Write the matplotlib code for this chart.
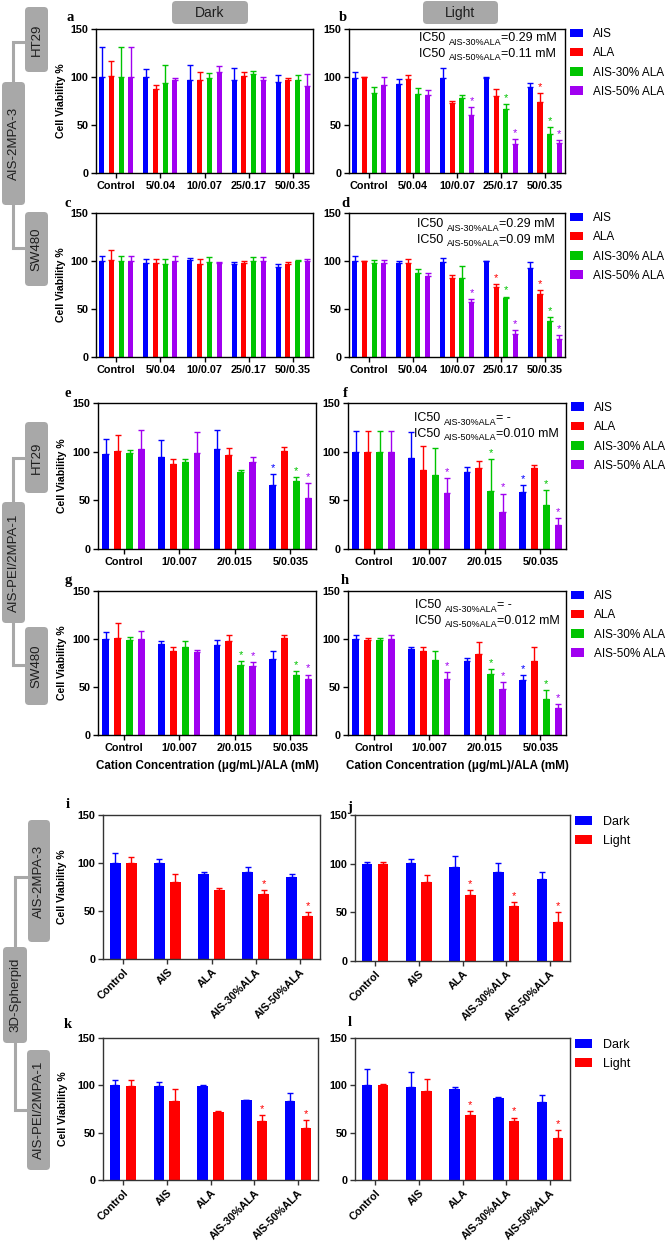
import numpy as np
import matplotlib
matplotlib.use("Agg")
import matplotlib.pyplot as plt
from matplotlib.patches import FancyBboxPatch

plt.rcParams['font.family'] = ['Liberation Sans', 'DejaVu Sans']

W, H = 666, 1243

# ---- data ----
series4 = ['AIS', 'ALA', 'AIS-30% ALA', 'AIS-50% ALA']
series2 = ['Dark', 'Light']
colors4 = ['#0000ff', '#ff0000', '#00c400', '#a000f0']
colors2 = ['#0000ff', '#ff0000']

conc_ad = ['Control', '5/0.04', '10/0.07', '25/0.17', '50/0.35']
conc_eh = ['Control', '1/0.007', '2/0.015', '5/0.035']
treat_il = ['Control', 'AIS', 'ALA', 'AIS-30%ALA', 'AIS-50%ALA']

a_vals = [[100, 100, 96.5, 97, 95], [101, 87.5, 97, 101, 96.5],
          [100, 94, 99, 103, 96.5], [100, 96.5, 105, 96.5, 90.5]]
a_errs = [[31, 8, 15.5, 12, 7], [16, 4.5, 8, 4, 2.5],
          [31, 18, 5, 3, 5.5], [31, 2.5, 6, 3.5, 13]]
a_star = [[0, 0, 0, 0, 0], [0, 0, 0, 0, 0], [0, 0, 0, 0, 0], [0, 0, 0, 0, 0]]

b_vals = [[99, 93, 99, 99, 90], [99.5, 98, 73, 80, 73.5],
          [83.5, 82, 78.5, 67, 41], [91.5, 81, 60, 30, 31]]
b_errs = [[6, 5, 10, 0.8, 4], [1, 4, 2, 8, 9.5],
          [6.5, 7, 2.5, 5, 7], [8.5, 5, 9, 5, 3]]
b_star = [[0, 0, 0, 0, 0], [0, 0, 0, 0, 1], [0, 0, 0, 1, 1], [0, 0, 1, 1, 1]]

c_vals = [[100, 98, 101.5, 96.5, 94], [101.5, 98, 97, 98, 96.5],
          [100, 97, 99, 99.5, 99.5], [100, 100.5, 98, 99.5, 99.5]]
c_errs = [[5, 4, 1.5, 2.5, 3], [9.5, 4, 5, 2, 2.5],
          [5, 5, 5, 5, 1.5], [5, 4.5, 1, 5, 2.5]]
c_star = a_star

d_vals = [[100.5, 97.5, 98.5, 99.5, 93], [100, 98, 82, 73, 66],
          [97.5, 88, 82, 61, 37], [97.5, 84.5, 57.5, 24, 19]]
d_errs = [[4.5, 2.5, 4.5, 0.5, 6], [0.5, 4, 3.5, 3, 4],
          [3.5, 4, 13, 2, 4.5], [3.5, 3.5, 2.5, 4.5, 3.5]]
d_star = [[0, 0, 0, 0, 0], [0, 0, 0, 1, 1], [0, 0, 0, 1, 1], [0, 0, 1, 1, 1]]

e_vals = [[98, 95, 103, 66], [101, 87.5, 96.5, 101],
          [98.5, 89, 79.5, 70], [103, 99, 89, 52]]
e_errs = [[15, 17, 19, 11], [16, 4.5, 7.5, 3.5],
          [3.5, 3.5, 2, 4], [19, 21, 6, 16]]
e_star = [[0, 0, 0, 1], [0, 0, 0, 0], [0, 0, 0, 1], [0, 0, 0, 1]]

f_vals = [[100, 93, 79.5, 58.5], [100, 81, 83.5, 83],
          [100, 76, 59.5, 45], [100, 58, 38, 25]]
f_errs = [[21, 27, 4.5, 7.5], [21, 25, 6.5, 3],
          [21, 28, 33, 16], [21, 14.5, 19, 7]]
f_star = [[0, 0, 0, 1], [0, 0, 0, 0], [0, 0, 1, 1], [0, 1, 1, 1]]

g_vals = [[100, 95, 94, 79.5], [101, 88, 97.5, 101],
          [99, 92, 72.5, 63], [99.5, 86, 71.5, 58]]
g_errs = [[7, 2.5, 5, 8], [16, 4, 7, 3.5],
          [3, 6, 4.5, 4], [8.5, 3, 4.5, 5]]
g_star = [[0, 0, 0, 0], [0, 0, 0, 0], [0, 0, 1, 1], [0, 0, 1, 1]]

h_vals = [[100, 89.5, 77.5, 57], [98.5, 87, 84, 77],
          [98.5, 78.5, 63.5, 38], [100, 58, 47.5, 28]]
h_errs = [[4.5, 2.5, 2.5, 5], [2.5, 5, 12.5, 15],
          [2.5, 8.5, 5.5, 9], [4.5, 7.5, 7.5, 4]]
h_star = [[0, 0, 0, 1], [0, 0, 0, 0], [0, 0, 1, 1], [0, 1, 1, 1]]

i_vals = [[100, 100, 89, 90.5, 85], [99.5, 80, 72, 68, 45]]
i_errs = [[10, 4, 1.5, 5.5, 4], [6.5, 9, 1.5, 4, 4]]
i_star = [[0, 0, 0, 0, 0], [0, 0, 0, 1, 1]]

j_vals = [[100, 101, 96.5, 91.5, 84.7], [100, 81.5, 68, 56, 40]]
j_errs = [[1.7, 4, 11, 9, 7], [1.7, 7, 5, 5, 10]]
j_star = [[0, 0, 0, 0, 0], [0, 0, 1, 1, 1]]

k_vals = [[100, 99.7, 99.7, 84, 83], [99.3, 83.6, 71.7, 62, 55]]
k_errs = [[5.6, 4, 0.5, 0.6, 9.3], [6.7, 13, 1.7, 7, 8]]
k_star = [[0, 0, 0, 0, 0], [0, 0, 0, 1, 1]]

l_vals = [[100, 98.6, 96.5, 87, 82], [100, 94, 69, 62.6, 44]]
l_errs = [[17, 16, 1.5, 0.8, 8], [1.4, 12.6, 4, 3.4, 9]]
l_star = [[0, 0, 0, 0, 0], [0, 0, 1, 1, 1]]

ic50_b = [('AIS-30%ALA', '=0.29 mM'), ('AIS-50%ALA', '=0.11 mM')]
ic50_d = [('AIS-30%ALA', '=0.29 mM'), ('AIS-50%ALA', '=0.09 mM')]
ic50_f = [('AIS-30%ALA', '= -'), ('AIS-50%ALA', '=0.010 mM')]
ic50_h = [('AIS-30%ALA', '= -'), ('AIS-50%ALA', '=0.012 mM')]

xlabel_txt = 'Cation Concentration (\u03bcg/mL)/ALA (mM)'

fig = plt.figure(figsize=(W / 100, H / 100), dpi=100)


def px_axes(x0, y0, x1, y1):
    return fig.add_axes([x0 / W, 1 - y1 / H, (x1 - x0) / W, (y1 - y0) / H])


def panel(box, cats, vals, errs, stars, colors, names, offsets, width,
          ylabel=True, rot=False, legend=False, leg_kw=None, spine='black', ylab_x=-0.14):
    ax = px_axes(*box)
    x = np.arange(len(cats))
    for k, (v, e, s) in enumerate(zip(vals, errs, stars)):
        xs = x + offsets[k]
        ax.bar(xs, v, width, color=colors[k], label=names[k], zorder=2)
        ax.errorbar(xs, v, yerr=[np.zeros(len(v)), e], fmt='none', ecolor=colors[k],
                    elinewidth=1, capsize=2.2, capthick=1, zorder=3)
        for xi, vi, ei, si in zip(xs, v, e, s):
            if si:
                ax.text(xi, vi + ei + 1.0, '*', color=colors[k], fontsize=8,
                        ha='center', va='bottom')
    ax.set_xlim(-0.46, len(cats) - 0.54)
    ax.set_ylim(0, 150)
    ax.set_yticks([0, 50, 100, 150])
    ax.set_yticklabels(['0', '50', '100', '150'], fontweight='bold', fontsize=7.8)
    ax.set_xticks(x)
    if rot:
        ax.set_xticklabels(cats, fontweight='bold', fontsize=7.8, rotation=45,
                           ha='right', rotation_mode='anchor')
    else:
        ax.set_xticklabels(cats, fontweight='bold', fontsize=7.8)
    ax.tick_params(direction='out', length=3.5, width=1, pad=2, colors=spine,
                   labelcolor='black')
    for sp in ax.spines.values():
        sp.set_linewidth(1.0)
        sp.set_color(spine)
    if ylabel:
        ax.set_ylabel('Cell Viability %', fontweight='bold', fontsize=7.6)
        ax.yaxis.set_label_coords(ylab_x, 0.5)
    if legend:
        ax.legend(loc='upper left', frameon=False, **leg_kw)
    return ax


off4 = [-0.33, -0.11, 0.11, 0.33]
off4b = [-0.32, -0.107, 0.107, 0.32]
off2 = [-0.18, 0.18]

leg4 = dict(bbox_to_anchor=(1.0, 1.04), fontsize=8.5, handlelength=1.1,
            handleheight=0.75, labelspacing=0.62, handletextpad=0.9, borderaxespad=0)
leg2 = dict(bbox_to_anchor=(1.0, 1.03), fontsize=9, handlelength=1.35,
            handleheight=0.8, labelspacing=0.55, handletextpad=0.9, borderaxespad=0)

panel((96, 29, 313, 173), conc_ad, a_vals, a_errs, a_star, colors4, series4, off4, 0.115)
panel((349, 29, 565, 173), conc_ad, b_vals, b_errs, b_star, colors4, series4, off4, 0.115,
      ylabel=False, legend=True, leg_kw=leg4)
panel((96, 213, 313, 357), conc_ad, c_vals, c_errs, c_star, colors4, series4, off4, 0.115)
panel((349, 213, 565, 357), conc_ad, d_vals, d_errs, d_star, colors4, series4, off4, 0.115,
      ylabel=False, legend=True, leg_kw=leg4)
panel((98, 403, 316, 549), conc_eh, e_vals, e_errs, e_star, colors4, series4, off4b, 0.125)
panel((348, 403, 566, 549), conc_eh, f_vals, f_errs, f_star, colors4, series4, off4b, 0.125,
      ylabel=False, legend=True, leg_kw=leg4)
ag = panel((98, 591, 316, 735), conc_eh, g_vals, g_errs, g_star, colors4, series4, off4b, 0.125)
ah = panel((348, 591, 566, 735), conc_eh, h_vals, h_errs, h_star, colors4, series4, off4b, 0.125,
           ylabel=False, legend=True, leg_kw=leg4)
for ax in (ag, ah):
    ax.set_xlabel(xlabel_txt, fontweight='bold', fontsize=8.4, labelpad=5)

panel((103, 815, 320, 959), treat_il, i_vals, i_errs, i_star, colors2, series2, off2, 0.24,
      rot=True, spine='#333333', ylab_x=-0.165)
panel((355, 815, 570, 961), treat_il, j_vals, j_errs, j_star, colors2, series2, off2, 0.24,
      ylabel=False, rot=True, legend=True, leg_kw=leg2, spine='#333333')
panel((103, 1038, 318, 1180), treat_il, k_vals, k_errs, k_star, colors2, series2, off2, 0.24,
      rot=True, spine='#333333', ylab_x=-0.165)
panel((355, 1038, 570, 1180), treat_il, l_vals, l_errs, l_star, colors2, series2, off2, 0.24,
      ylabel=False, rot=True, legend=True, leg_kw=leg2, spine='#333333')

# ---- overlay in pixel coordinates: boxes, connectors, letters, IC50 notes ----
ov = fig.add_axes([0, 0, 1, 1])
ov.set_xlim(0, W)
ov.set_ylim(H, 0)
ov.axis('off')

box_fc = '#a8a8a8'


def gbox(x0, y0, x1, y1, txt, vertical=True, fs=9.5):
    ov.add_patch(FancyBboxPatch((x0, y0), x1 - x0, y1 - y0,
                                boxstyle='round,pad=0,rounding_size=4',
                                fc=box_fc, ec='none'))
    ov.text((x0 + x1) / 2, (y0 + y1) / 2, txt, rotation=90 if vertical else 0,
            ha='center', va='center', fontsize=fs, color='#1e1e1e')


def connector(pts):
    xs, ys = zip(*pts)
    ov.plot(xs, ys, color=box_fc, lw=2.2, solid_capstyle='butt', solid_joinstyle='miter')


gbox(172, 1, 248, 24, 'Dark', vertical=False, fs=10)
gbox(423, 1, 498, 24, 'Light', vertical=False, fs=10)

connector([(13, 84), (13, 42), (26, 42)])
connector([(13, 203), (13, 248), (26, 248)])
connector([(13, 504), (13, 458), (26, 458)])
connector([(13, 621), (13, 665), (26, 665)])
connector([(15, 949), (15, 877), (29, 877)])
connector([(15, 1041), (15, 1110), (28, 1110)])

gbox(25, 7, 48, 72, 'HT29')
gbox(2, 82, 25, 205, 'AIS-2MPA-3')
gbox(25, 212, 48, 286, 'SW480')
gbox(25, 422, 48, 493, 'HT29')
gbox(2, 502, 25, 623, 'AIS-PEI/2MPA-1')
gbox(25, 627, 48, 705, 'SW480')
gbox(28, 820, 50, 942, 'AIS-2MPA-3')
gbox(3, 947, 27, 1043, '3D-Spherpid')
gbox(27, 1050, 50, 1170, 'AIS-PEI/2MPA-1')

letters = [('a', 70, 17), ('b', 343, 17), ('c', 68, 203), ('d', 345, 203),
           ('e', 68, 393), ('f', 345, 393), ('g', 68, 580), ('h', 345, 580),
           ('i', 68, 804), ('j', 350, 807), ('k', 68, 1024), ('l', 350, 1022)]
for t, x, y in letters:
    ov.text(x, y, t, fontsize=10.5, fontweight='bold', family='Liberation Serif',
            ha='center', va='center')


def ic50(x, y, sub, val):
    t1 = ov.text(x, y, 'IC50 ', fontsize=9, ha='left', va='baseline')
    t2 = ov.annotate(sub, xy=(1, 0), xycoords=t1, xytext=(0, -0.5),
                     textcoords='offset points', fontsize=6.5, va='baseline')
    ov.annotate(val, xy=(1, 0), xycoords=(t2, t1), fontsize=9, va='bottom')


for (x, y0, rows) in [(419, 41, ic50_b), (417, 227, ic50_d),
                      (414, 421, ic50_f), (415, 608, ic50_h)]:
    for r, (sub, val) in enumerate(rows):
        ic50(x, y0 + r * 15.5, sub, val)

fig.savefig('out.png', dpi=100)
